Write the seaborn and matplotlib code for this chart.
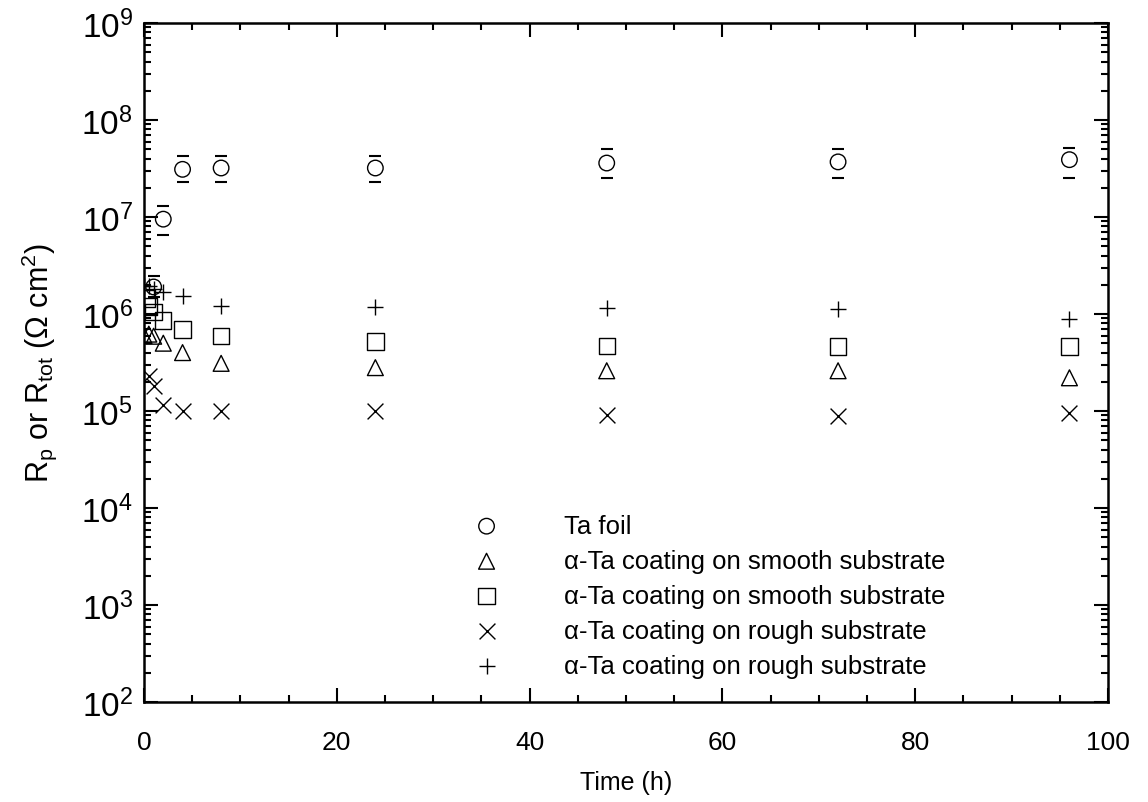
import numpy as np
import pandas as pd
import matplotlib
matplotlib.use("Agg")
import matplotlib.pyplot as plt
import seaborn as sns
from matplotlib.ticker import FixedLocator, LogLocator, MultipleLocator, NullFormatter

# data
foil_t = [1, 2, 4, 8, 24, 48, 72, 96]
foil_r = [1.9e6, 9.5e6, 3.1e7, 3.2e7, 3.2e7, 3.6e7, 3.7e7, 3.9e7]
foil_hi = [2.45e6, 1.3e7, 4.3e7, 4.3e7, 4.3e7, 5.0e7, 5.0e7, 5.2e7]
foil_lo = [1.5e6, 6.5e6, 2.3e7, 2.3e7, 2.3e7, 2.5e7, 2.5e7, 2.5e7]

smooth_tri_t = [0, 0.5, 1, 2, 4, 8, 24, 48, 72, 96]
smooth_tri_r = [6.0e5, 6.2e5, 5.9e5, 5.0e5, 4.0e5, 3.1e5, 2.8e5, 2.6e5, 2.6e5, 2.2e5]

smooth_sq_t = [0.25, 0.5, 1, 2, 4, 8, 24, 48, 72, 96]
smooth_sq_r = [1.45e6, 1.2e6, 1.05e6, 8.6e5, 6.9e5, 5.9e5, 5.2e5, 4.7e5, 4.6e5, 4.6e5]

rough_x_t = [0.5, 1, 2, 4, 8, 24, 48, 72, 96]
rough_x_r = [2.3e5, 1.8e5, 1.15e5, 1.0e5, 1.0e5, 1.0e5, 9.2e4, 8.8e4, 9.5e4]

rough_p_t = [0, 0.5, 1, 2, 4, 8, 24, 48, 72, 96]
rough_p_r = [1.95e6, 1.95e6, 1.8e6, 1.7e6, 1.55e6, 1.2e6, 1.18e6, 1.16e6, 1.12e6, 8.8e5]

y_decades = [1e2, 1e3, 1e4, 1e5, 1e6, 1e7, 1e8, 1e9]

series = [
    ("Ta foil", foil_t, foil_r, "o"),
    ("\u03b1-Ta coating on smooth substrate", smooth_tri_t, smooth_tri_r, "^"),
    ("\u03b1-Ta coating on smooth substrate", smooth_sq_t, smooth_sq_r, "s"),
    ("\u03b1-Ta coating on rough substrate", rough_x_t, rough_x_r, "x"),
    ("\u03b1-Ta coating on rough substrate", rough_p_t, rough_p_r, "+"),
]

sns.set_style("ticks")
plt.rcParams["font.family"] = ["Liberation Sans", "DejaVu Sans"]
plt.rcParams["mathtext.fontset"] = "custom"
plt.rcParams["mathtext.rm"] = "Liberation Sans"
plt.rcParams["mathtext.it"] = "Liberation Sans"
plt.rcParams["mathtext.bf"] = "Liberation Sans:bold"
for key in ["text.color", "axes.labelcolor", "xtick.color", "ytick.color", "axes.edgecolor"]:
    plt.rcParams[key] = "black"

fig = plt.figure(figsize=(11.48, 8.03), dpi=100)
ax = fig.add_axes([144 / 1148, 1 - 703 / 803, (1108 - 144) / 1148, (703 - 24) / 803])

sizes = {"o": 125, "^": 130, "s": 140, "x": 130, "+": 140}
for label, t, r, m in series:
    df = pd.DataFrame({"t": t, "r": r})
    sns.scatterplot(data=df, x="t", y="r", marker=m, s=sizes[m], color="black",
                    linewidth=1.0, ax=ax, label=label)
    if m not in ("x", "+"):
        coll = ax.collections[-1]
        coll.set_facecolor("none")
        coll.set_edgecolor("black")

# error caps for Ta foil
err = [np.array(foil_r) - np.array(foil_lo), np.array(foil_hi) - np.array(foil_r)]
ax.errorbar(foil_t, foil_r, yerr=err, fmt="none", ecolor="black", elinewidth=0,
            capsize=4, capthick=1.5)

ax.set_yscale("log")
ax.set_xlim(0, 100)
ax.set_ylim(y_decades[0], y_decades[-1])
ax.xaxis.set_major_locator(MultipleLocator(20))
ax.xaxis.set_minor_locator(MultipleLocator(5))
ax.yaxis.set_major_locator(FixedLocator(y_decades))
ax.yaxis.set_minor_locator(LogLocator(base=10, subs=np.arange(2, 10), numticks=100))
ax.yaxis.set_minor_formatter(NullFormatter())

ax.tick_params(which="both", direction="in", top=True, right=True, width=1.5)
ax.tick_params(which="major", length=10)
ax.tick_params(which="minor", length=5)
ax.tick_params(axis="x", labelsize=19, pad=20)
ax.tick_params(axis="y", labelsize=24, pad=8)
for sp in ax.spines.values():
    sp.set_linewidth(1.8)

ax.set_xlabel("Time (h)", fontsize=18, labelpad=12)
ax.set_ylabel(r"$\mathregular{R_p\ or\ R_{tot}\ (\Omega\ cm^2)}$", fontsize=22, labelpad=16)

leg = ax.legend(loc="upper left", bbox_to_anchor=(0.342, 0.277), frameon=False,
                fontsize=18.5, handlelength=1.0, handletextpad=2.5, labelspacing=0.43,
                borderaxespad=0, borderpad=0)

fig.savefig("out.png", dpi=100)
